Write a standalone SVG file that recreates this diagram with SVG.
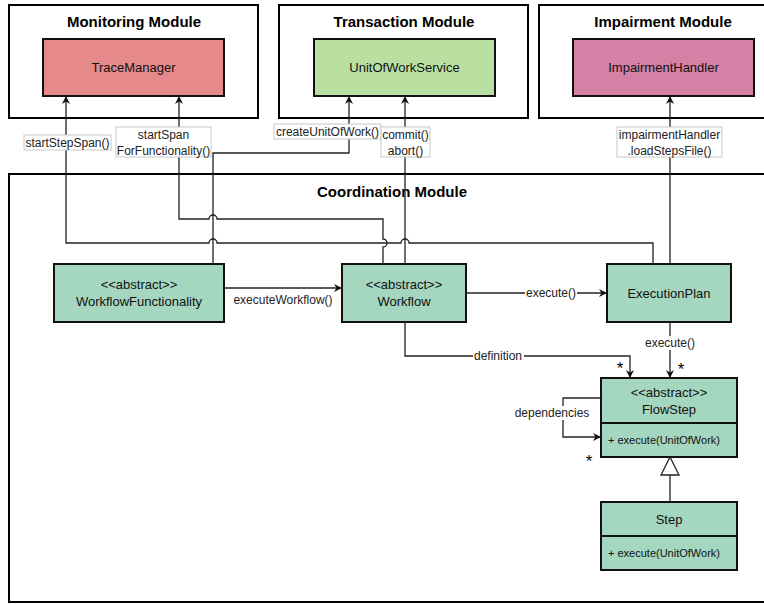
<svg xmlns="http://www.w3.org/2000/svg" width="764" height="604" viewBox="0 0 764 604">
<style>
.mod{fill:#fff;stroke:#000;stroke-width:2}
.title{font-family:"Liberation Sans",Arial,sans-serif;font-weight:bold;font-size:15px;fill:#000;text-anchor:middle}
.node{stroke:#111;stroke-width:2}
.cls{fill:#a5d6c0;stroke:#111;stroke-width:2}
.t{font-family:"Liberation Sans",Arial,sans-serif;font-size:13px;fill:#111;text-anchor:middle}
.s{font-family:"Liberation Sans",Arial,sans-serif;font-size:11px;fill:#111}
.lbl{font-family:"Liberation Sans",Arial,sans-serif;font-size:12px;fill:#222;text-anchor:middle}
.lb{fill:#fff;stroke:#c8c8c8;stroke-width:1}
.e{fill:none;stroke:#222;stroke-width:1.3}
.star{font-family:"Liberation Sans",Arial,sans-serif;font-size:17px;fill:#000;text-anchor:middle}
</style>
<defs>
<marker id="arr" markerWidth="10" markerHeight="10" refX="8" refY="4" orient="auto" markerUnits="userSpaceOnUse">
<path d="M0,0 L8,4 L0,8 L2.5,4 Z" fill="#111"/>
</marker>
</defs>
<rect width="764" height="604" fill="#fff"/>
<g id="monitoring-module">
<rect class="mod" x="9" y="5" width="249" height="113"/>
<text class="title" x="134" y="27">Monitoring Module</text>
</g>
<g id="transaction-module">
<rect class="mod" x="279" y="5" width="249" height="113"/>
<text class="title" x="404" y="27">Transaction Module</text>
</g>
<g id="impairment-module">
<rect class="mod" x="539" y="5" width="230" height="113"/>
<text class="title" x="663" y="27">Impairment Module</text>
</g>
<g id="coordination-module">
<rect class="mod" x="9" y="174" width="760" height="428"/>
<text class="title" x="392" y="197">Coordination Module</text>
</g>
<g id="TraceManager">
<rect class="node" x="43" y="39" width="181" height="57" fill="#e5898b" stroke="#3a1c1c"/>
<text class="t" x="133.5" y="72">TraceManager</text>
</g>
<g id="UnitOfWorkService">
<rect class="node" x="314" y="39" width="181" height="57" fill="#b9e0a1"/>
<text class="t" x="404.5" y="72">UnitOfWorkService</text>
</g>
<g id="ImpairmentHandler">
<rect class="node" x="573" y="39" width="181" height="57" fill="#d580a5"/>
<text class="t" x="663.5" y="72">ImpairmentHandler</text>
</g>
<g id="WorkflowFunctionality">
<rect class="cls" x="54" y="264" width="170" height="58"/>
<text class="t" x="139" y="289">&lt;&lt;abstract&gt;&gt;</text>
<text class="t" x="139" y="306">WorkflowFunctionality</text>
</g>
<g id="Workflow">
<rect class="cls" x="342" y="264" width="124" height="58"/>
<text class="t" x="404" y="289">&lt;&lt;abstract&gt;&gt;</text>
<text class="t" x="404" y="306">Workflow</text>
</g>
<g id="ExecutionPlan">
<rect class="cls" x="607" y="264" width="124" height="58"/>
<text class="t" x="669" y="298">ExecutionPlan</text>
</g>
<g id="FlowStep">
<rect class="cls" x="601" y="378" width="136" height="79"/>
<line x1="601" y1="423" x2="737" y2="423" stroke="#111" stroke-width="2"/>
<text class="t" x="669" y="397">&lt;&lt;abstract&gt;&gt;</text>
<text class="t" x="669" y="414">FlowStep</text>
<text class="s" x="608" y="444">+ execute(UnitOfWork)</text>
</g>
<g id="Step">
<rect class="cls" x="601" y="502" width="136" height="68"/>
<line x1="601" y1="536" x2="737" y2="536" stroke="#111" stroke-width="2"/>
<text class="t" x="669" y="524">Step</text>
<text class="s" x="608" y="557">+ execute(UnitOfWork)</text>
</g>
<g id="connectors">
<path class="e" d="M653,264 V243 H409 A4,4 0 0 0 401,243 H217 A4,4 0 0 0 209,243 H66 V96" marker-end="url(#arr)"/>
<path class="e" d="M383,264 V247 A4,4 0 0 0 383,239 V219 H217 A4,4 0 0 0 209,219 H179 V96" marker-end="url(#arr)"/>
<path class="e" d="M213,264 V153 H349 V96" marker-end="url(#arr)"/>
<path class="e" d="M405,264 V96" marker-end="url(#arr)"/>
<path class="e" d="M670,264 V96" marker-end="url(#arr)"/>
<path class="e" d="M224,288 H342" marker-end="url(#arr)"/>
<path class="e" d="M466,293 H607" marker-end="url(#arr)"/>
<path class="e" d="M670,322 V378" marker-end="url(#arr)"/>
<path class="e" d="M405,322 V356 H630 V378" marker-end="url(#arr)"/>
<path class="e" d="M601,398 H563 V437 H601" marker-end="url(#arr)"/>
<path class="e" d="M670,502 V475"/>
<polygon points="670,457 679,475 661,475" fill="#fff" stroke="#222" stroke-width="1.3"/>
<rect class="lb" x="24" y="135" width="87" height="15"/>
<text class="lbl" x="67.5" y="147">startStepSpan()</text>
<rect class="lb" x="116" y="127" width="95" height="30"/>
<text class="lbl" x="163.5" y="139">startSpan</text>
<text class="lbl" x="163.5" y="155">ForFunctionality()</text>
<rect class="lb" x="274" y="124" width="107" height="15"/>
<text class="lbl" x="327.5" y="136">createUnitOfWork()</text>
<rect class="lb" x="381" y="127" width="49" height="30"/>
<text class="lbl" x="405.5" y="139">commit()</text>
<text class="lbl" x="405.5" y="155">abort()</text>
<rect class="lb" x="617" y="127" width="105" height="30"/>
<text class="lbl" x="669.5" y="139">impairmentHandler</text>
<text class="lbl" x="669.5" y="155">.loadStepsFile()</text>
<text class="lbl" x="283" y="304">executeWorkflow()</text>
<rect x="525" y="286" width="52" height="14" fill="#fff"/>
<text class="lbl" x="551" y="297">execute()</text>
<rect x="642" y="336" width="56" height="14" fill="#fff"/>
<text class="lbl" x="670" y="347">execute()</text>
<rect x="473" y="349" width="51" height="14" fill="#fff"/>
<text class="lbl" x="498" y="360">definition</text>
<rect x="514" y="406" width="78" height="14" fill="#fff"/>
<text class="lbl" x="552" y="417">dependencies</text>
<text class="star" x="620" y="374">*</text>
<text class="star" x="681" y="375">*</text>
<text class="star" x="589" y="467">*</text>
</g>
</svg>
